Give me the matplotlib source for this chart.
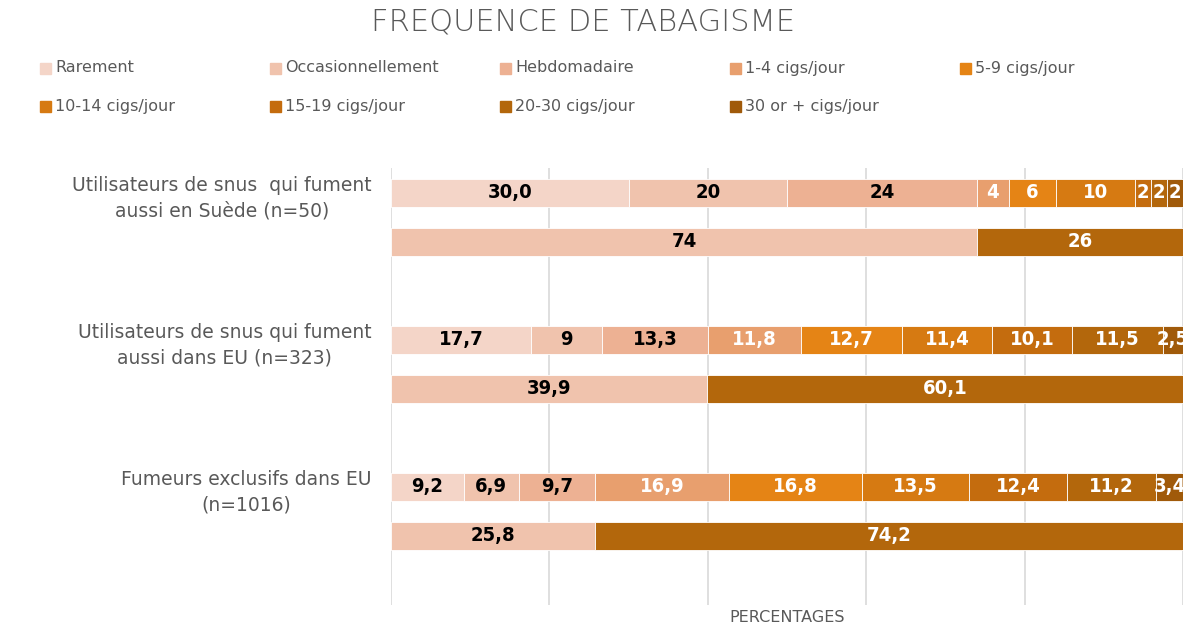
import matplotlib.pyplot as plt
from matplotlib.patches import Rectangle
from matplotlib import font_manager as fm

# Données
categories = ["Utilisateurs de snus  qui fument\naussi en Suède (n=50)",
              "Utilisateurs de snus qui fument\naussi dans EU (n=323)",
              "Fumeurs exclusifs dans EU\n(n=1016)"]
frequences = ["Rarement", "Occasionnellement", "Hebdomadaire", "1-4 cigs/jour",
              "5-9 cigs/jour", "10-14 cigs/jour", "15-19 cigs/jour",
              "20-30 cigs/jour", "30 or + cigs/jour"]
suede = ["30,0", "20", "24", "4", "6", "10", "2", "2", "2"]
eu_mixte = ["17,7", "9", "13,3", "11,8", "12,7", "11,4", "10,1", "11,5", "2,5"]
eu_exclusif = ["9,2", "6,9", "9,7", "16,9", "16,8", "13,5", "12,4", "11,2", "3,4"]
# non quotidien / quotidien
suede_tot = ["74", "26"]
eu_mixte_tot = ["39,9", "60,1"]
eu_exclusif_tot = ["25,8", "74,2"]

couleurs = ["#F4D5C8", "#F0C3AD", "#EDB193", "#E89F6E", "#E58415",
            "#D67A12", "#C46C0E", "#B3670C", "#A05A0A"]
couleurs_tot = ["#F0C3AD", "#B3670C"]
noir_txt = 3  # les 3 premiers segments en noir

gris = "#595959"

# police étroite en gras pour les valeurs, si dispo
etroites = [f for f in fm.fontManager.ttflist
            if ("Narrow" in f.fname or "Condensed" in f.fname)
            and ("Bold" in f.fname) and "Oblique" not in f.fname
            and "Italic" not in f.fname]
if etroites:
    etroites.sort(key=lambda f: ("Liberation" not in f.fname, f.fname))
    prop_val = fm.FontProperties(fname=etroites[0].fname, size=14.5)
else:
    prop_val = fm.FontProperties(family="DejaVu Sans", weight="bold", size=11)


def num(s):
    return float(s.replace(",", "."))


fig = plt.figure(figsize=(11.87, 6.28), dpi=100)
ax = fig.add_axes([391 / 1187, 1 - 605 / 628, 792 / 1187, 437 / 628])

rangees = [(0, suede, couleurs, noir_txt), (1, suede_tot, couleurs_tot, 1),
           (3, eu_mixte, couleurs, noir_txt), (4, eu_mixte_tot, couleurs_tot, 1),
           (6, eu_exclusif, couleurs, noir_txt), (7, eu_exclusif_tot, couleurs_tot, 1)]
h = 0.57
for y, vals, cols, nnoir in rangees:
    gauche = 0
    for i, s in enumerate(vals):
        v = num(s)
        ax.barh(y, v, left=gauche, height=h, color=cols[i],
                edgecolor="white", linewidth=0.6, zorder=3)
        ax.text(gauche + v / 2, y, s, ha="center", va="center",
                fontproperties=prop_val,
                color="black" if i < nnoir else "white", zorder=4)
        gauche += v

ax.set_xlim(0, 100)
ax.set_ylim(8.41, -0.51)
ax.set_xticks(range(0, 101, 20))
ax.set_xticklabels([])
ax.grid(axis="x", color="#D9D9D9", linewidth=1.2, zorder=0)
ax.set_yticks([0, 3, 6])
ax.set_yticklabels(categories, fontsize=13.5, color=gris,
                   multialignment="center", linespacing=1.45)
ax.tick_params(length=0, pad=14)
for sp in ax.spines.values():
    sp.set_visible(False)

fig.text(787 / 1187, 1 - 618 / 628, "PERCENTAGES", ha="center", va="center",
         fontsize=11.5, color=gris)
fig.text(583 / 1187, 1 - 22 / 628, "FREQUENCE DE TABAGISME", ha="center", va="center",
         fontsize=22, color=gris, fontweight="light")

# légende manuelle en colonnes régulières
for i, nom in enumerate(frequences):
    col, lig = i % 5, i // 5
    x0 = 40 + col * 230
    y0 = 68 + lig * 38
    fig.patches.append(Rectangle((x0 / 1187, 1 - (y0 + 6) / 628), 11 / 1187, 11 / 628,
                                 transform=fig.transFigure, color=couleurs[i]))
    fig.text((x0 + 15) / 1187, 1 - y0 / 628, nom, ha="left", va="center",
             fontsize=11.5, color=gris)

fig.savefig("out.png", dpi=100)
